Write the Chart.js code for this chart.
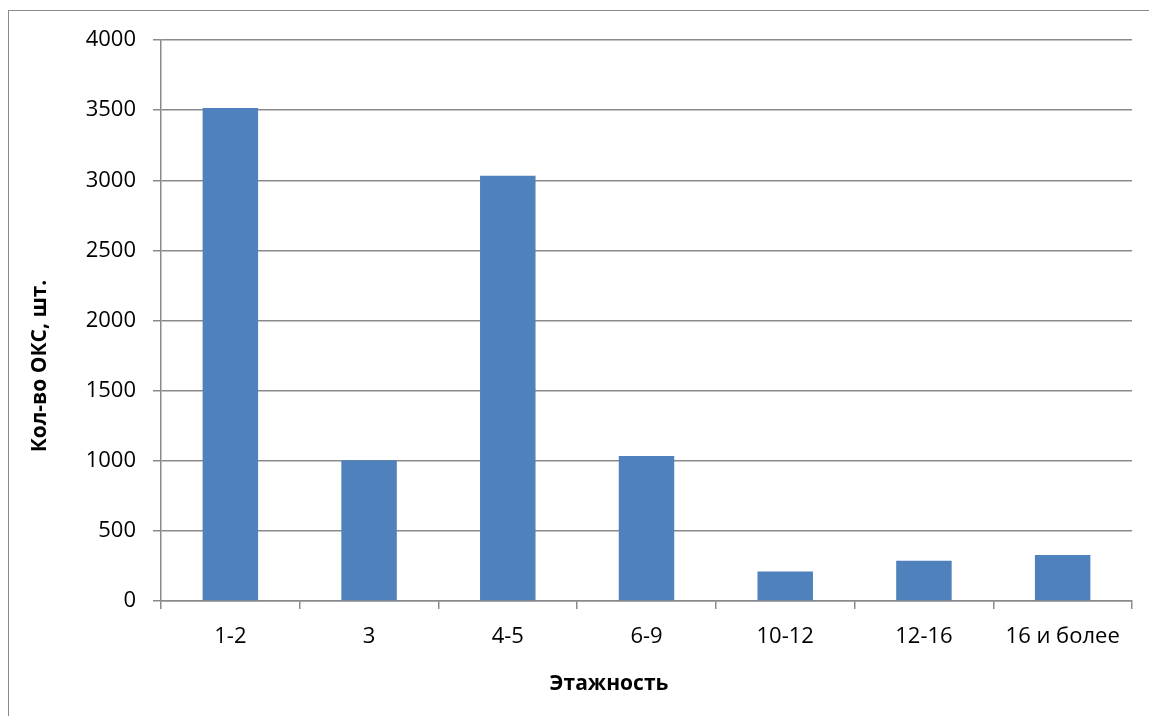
<!DOCTYPE html>
<html>
<head>
<meta charset="utf-8">
<script src="https://cdn.jsdelivr.net/npm/chart.js@4"></script>
<style>
  html, body { margin: 0; padding: 0; background: #fff; overflow: hidden; }
  #frame {
    position: absolute; left: 8px; top: 10px; width: 1300px; height: 900px;
    border-left: 1.5px solid #8a8a8a; border-top: 1.5px solid #8a8a8a;
  }
  #wrap { position: absolute; left: 0; top: 0; width: 1149px; height: 716px; }
</style>
</head>
<body>
<div id="frame"></div>
<div id="wrap"><canvas id="chartCanvas"></canvas></div>
<script>
// data
const categories = ['1-2', '3', '4-5', '6-9', '10-12', '12-16', '16 и более'];
const counts = [3515, 1003, 3032, 1033, 210, 287, 328];
const yTicks = [0, 500, 1000, 1500, 2000, 2500, 3000, 3500, 4000];

const xTitle = 'Этажность';
const yTitle = 'Кол-во ОКС, шт.';

const gridColor = '#8a8a8a';
const tickFont = { family: 'Open Sans', size: 22 };
const titleFont = 'bold 21px "Open Sans"';

// axis titles sit off-centre in the original (Excel places them on the whole chart)
const axisTitles = {
  id: 'axisTitles',
  afterDraw(chart) {
    const c = chart.ctx;
    c.save();
    c.fillStyle = '#000';
    c.font = titleFont;
    c.textAlign = 'center';
    c.textBaseline = 'middle';
    c.fillText(xTitle, 609, 684);
    c.translate(40, 366);
    c.rotate(-Math.PI / 2);
    c.fillText(yTitle, 0, 0);
    c.restore();
  }
};

const ctx = document.getElementById('chartCanvas').getContext('2d');

new Chart(ctx, {
  type: 'bar',
  data: {
    labels: categories,
    datasets: [{
      data: counts,
      backgroundColor: '#4F81BD',
      borderWidth: 0,
      categoryPercentage: 1,
      barPercentage: 0.4
    }]
  },
  options: {
    responsive: true,
    maintainAspectRatio: false,
    animation: false,
    layout: { padding: { top: 40, right: 17, bottom: 0, left: 0 } },
    plugins: { legend: { display: false }, tooltip: { enabled: false } },
    scales: {
      x: {
        grid: {
          display: true, drawOnChartArea: false, drawTicks: true,
          tickLength: 8, color: gridColor, lineWidth: 1.5, offset: true
        },
        border: { display: true, color: gridColor, width: 1.5 },
        ticks: { color: '#000', font: tickFont, padding: 15, maxRotation: 0, autoSkip: false },
        afterFit: (scale) => { scale.height = 115; }
      },
      y: {
        min: 0,
        max: 4000,
        afterBuildTicks: (scale) => { scale.ticks = yTicks.map(v => ({ value: v })); },
        grid: { color: gridColor, lineWidth: 1.5, tickLength: 8, drawTicks: true },
        border: { display: true, color: gridColor, width: 1.5 },
        ticks: { color: '#000', font: tickFont, padding: 17, callback: (v) => String(v) },
        afterFit: (scale) => { scale.width = 161; }
      }
    }
  },
  plugins: [axisTitles]
});
</script>
</body>
</html>
